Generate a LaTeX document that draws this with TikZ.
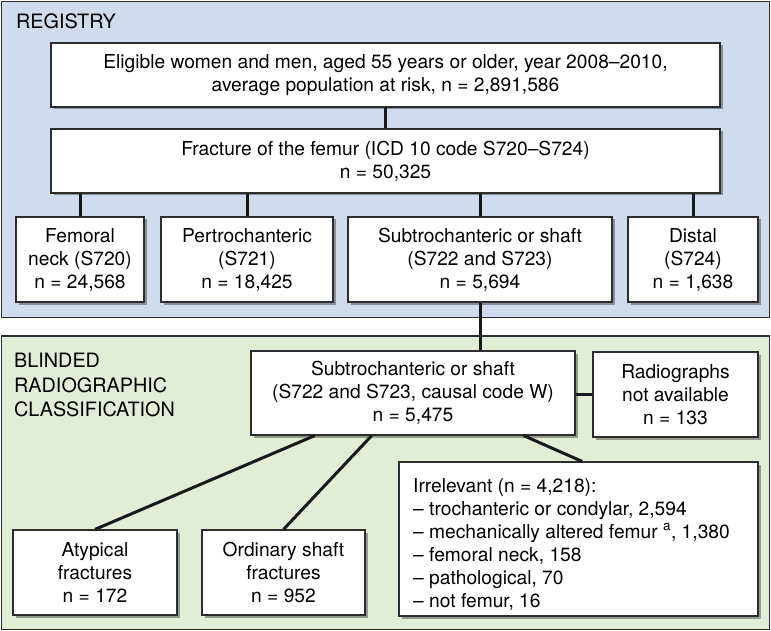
\documentclass[tikz,border=0pt]{standalone}
\usepackage{fontspec}
\setmainfont{TeX Gyre Heros}
\usetikzlibrary{shadows,calc}
\definecolor{regblue}{RGB}{207,220,238}
\definecolor{blgreen}{RGB}{226,237,214}
\definecolor{edge}{RGB}{45,45,45}
\tikzset{
  panel/.style={draw=edge, line width=1.6pt},
  box/.style={draw=edge, line width=1.2pt, fill=white, inner sep=0pt, align=center,
    font=\fontsize{19.2}{23}\selectfont,
    drop shadow={shadow xshift=2.5pt, shadow yshift=-2.5pt, opacity=0.35, fill=black}},
  link/.style={line width=3pt, draw=black!90},
  ptitle/.style={anchor=north west, inner sep=0pt, align=left, font=\fontsize{19.8}{24.5}\selectfont}
}
\begin{document}
\begin{tikzpicture}[x=1pt,y=-1pt]
\useasboundingbox (0,0) rectangle (771,631);
% panels
\fill[regblue] (1.5,1.5) rectangle (769.5,317.5);
\draw[panel] (1.5,1.5) rectangle (769.5,317.5);
\fill[blgreen] (1.5,336) rectangle (769.5,629.5);
\draw[panel] (1.5,336) rectangle (769.5,629.5);
\node[ptitle] (treg) at (16,14) {REGISTRY};
\node[ptitle] (tbl) at (14,353) {BLINDED\\RADIOGRAPHIC\\CLASSIFICATION};
% registry boxes
\node[box, minimum width=669pt, minimum height=64pt] (top) at (385.5,75)
  {Eligible women and men, aged 55 years or older, year 2008--2010,\\average population at risk, n = 2,891,586};
\node[box, minimum width=669pt, minimum height=64pt] (frac) at (385.5,161)
  {Fracture of the femur (ICD 10 code S720--S724)\\n = 50,325};
\node[box, minimum width=128pt, minimum height=85pt] (fn) at (80,259.5)
  {Femoral\\neck (S720)\\n = 24,568};
\node[box, minimum width=172pt, minimum height=85pt] (pt) at (247,259.5)
  {Pertrochanteric\\(S721)\\n = 18,425};
\node[box, minimum width=264pt, minimum height=85pt] (st) at (480,259.5)
  {Subtrochanteric or shaft\\(S722 and S723)\\n = 5,694};
\node[box, minimum width=130pt, minimum height=85pt] (di) at (693,259.5)
  {Distal\\(S724)\\n = 1,638};
% blinded boxes
\node[box, minimum width=324pt, minimum height=84pt] (bs) at (413,393)
  {Subtrochanteric or shaft\\(S722 and S723, causal code W)\\n = 5,475};
\node[box, minimum width=165pt, minimum height=85pt] (rad) at (675.5,394.5)
  {Radiographs\\not available\\n = 133};
\node[box, minimum width=359pt, minimum height=154pt] (irr) at (578.5,539) {};
\node[anchor=north west, inner sep=0pt, align=left, font=\fontsize{19.2}{23}\selectfont] (irrt) at (413,478)
  {Irrelevant (n = 4,218):\\
   -- trochanteric or condylar, 2,594\\
   -- mechanically altered femur \textsuperscript{a}, 1,380\\
   -- femoral neck, 158\\
   -- pathological, 70\\
   -- not femur, 16};
\node[box, minimum width=164pt, minimum height=85pt] (aty) at (95,572.5)
  {Atypical\\fractures\\n = 172};
\node[box, minimum width=163pt, minimum height=85pt] (ord) at (283.5,572.5)
  {Ordinary shaft\\fractures\\n = 952};
% connectors
\draw[link] (top.south) -- (frac.north);
\draw[link] (fn.north) -- (fn.north |- frac.south);
\draw[link] (pt.north) -- (pt.north |- frac.south);
\draw[link] (st.north) -- (st.north |- frac.south);
\draw[link] (di.north) -- (di.north |- frac.south);
\draw[link] (st.south) -- (st.south |- bs.north);
\draw[link] (bs.east |- rad.west) -- (rad.west);
\draw[link] ($(bs.south west)!0.198!(bs.south east)$) -- (aty.north);
\draw[link] ($(bs.south west)!0.373!(bs.south east)$) -- (ord.north);
\draw[link] ($(bs.south west)!0.84!(bs.south east)$) -- ($(irr.north west)!0.51!(irr.north east)$);
\end{tikzpicture}
\end{document}
